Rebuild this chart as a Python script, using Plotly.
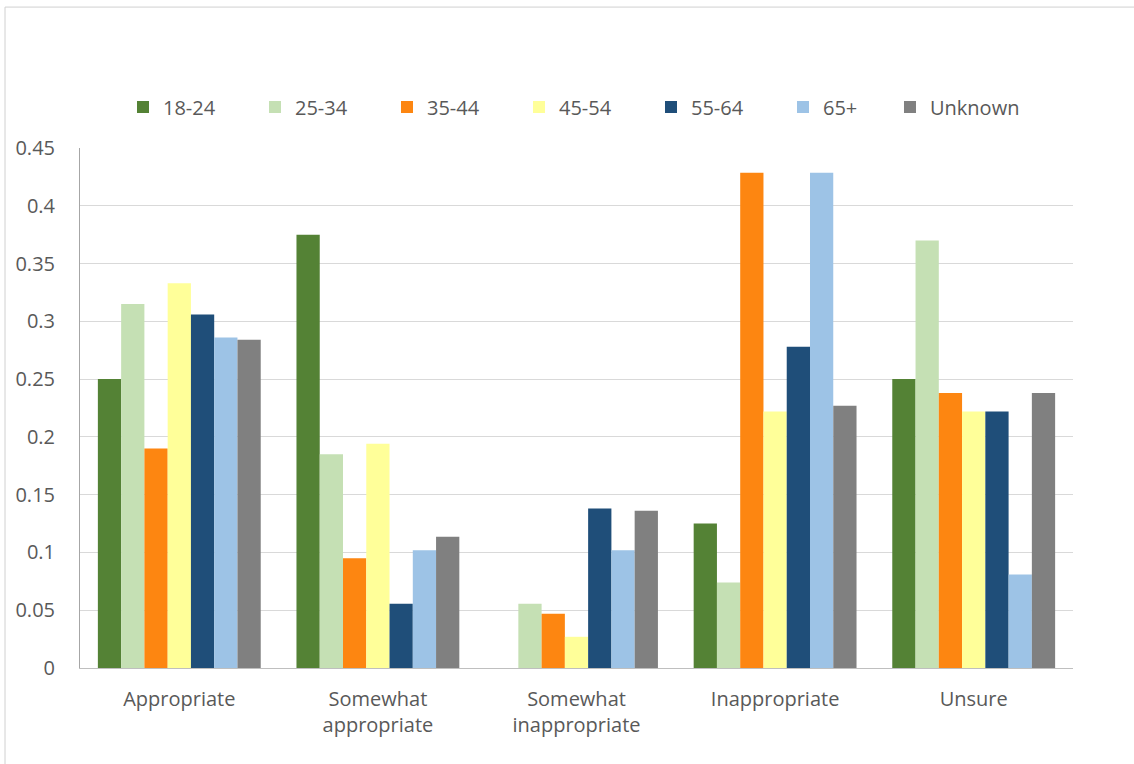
import plotly.graph_objects as go

categories = ["Appropriate", "Somewhat<br>appropriate", "Somewhat<br>inappropriate",
              "Inappropriate", "Unsure"]

age_groups = ["18-24", "25-34", "35-44", "45-54", "55-64", "65+", "Unknown"]

share_18_24 = [0.25, 0.375, 0.0, 0.125, 0.25]
share_25_34 = [0.315, 0.185, 0.0556, 0.074, 0.37]
share_35_44 = [0.19, 0.095, 0.047, 0.4286, 0.238]
share_45_54 = [0.333, 0.194, 0.027, 0.222, 0.222]
share_55_64 = [0.306, 0.0556, 0.138, 0.278, 0.222]
share_65_plus = [0.286, 0.102, 0.102, 0.4286, 0.081]
share_unknown = [0.284, 0.1135, 0.136, 0.227, 0.238]

series = [share_18_24, share_25_34, share_35_44, share_45_54,
          share_55_64, share_65_plus, share_unknown]
colors = ["#548235", "#c5e0b4", "#fd8611", "#ffff99", "#1f4e79", "#9dc3e6", "#808080"]

y_ticks = [0, 0.05, 0.1, 0.15, 0.2, 0.25, 0.3, 0.35, 0.4, 0.45]
y_tick_text = ["0", "0.05", "0.1", "0.15", "0.2", "0.25", "0.3", "0.35", "0.4", "0.45"]

FONT = "Open Sans"
TEXT = "#595959"

fig = go.Figure()
for name, vals, col in zip(age_groups, series, colors):
    # the last entry sits in its own legend box so it can follow the short "65+" label closely
    fig.add_trace(go.Bar(name=name, x=categories, y=vals, marker_color=col,
                         marker_line_width=0,
                         legend="legend2" if name == "Unknown" else "legend"))

legend_style = dict(orientation="h", xanchor="left", y=1.079, yanchor="middle",
                    entrywidth=87, entrywidthmode="pixels",
                    font=dict(family=FONT, size=20, color=TEXT),
                    bgcolor="rgba(0,0,0,0)", traceorder="normal")

fig.update_layout(
    width=1134, height=764,
    margin=dict(l=80, r=61, t=148, b=96),
    paper_bgcolor="white", plot_bgcolor="white",
    barmode="group", bargap=0.18, bargroupgap=0,
    font=dict(family=FONT, size=20, color=TEXT),
    showlegend=True,
    legend=dict(x=0.0433, **legend_style),
    legend2=dict(x=0.8157, **legend_style),
    xaxis=dict(showline=True, linecolor="#bfbfbf", linewidth=1, ticks="",
               ticklabelstandoff=13,
               tickfont=dict(family=FONT, size=20, color=TEXT), showgrid=False),
    yaxis=dict(range=[0, 0.45], tickvals=y_ticks, ticktext=y_tick_text,
               showline=True, linecolor="#a6a6a6", linewidth=1,
               gridcolor="#d9d9d9", gridwidth=1, zeroline=False, ticks="",
               ticklabelstandoff=20,
               tickfont=dict(family=FONT, size=20, color=TEXT)),
    shapes=[dict(type="rect", xref="paper", yref="paper",
                 x0=-0.0755, x1=1.3, y0=-0.5, y1=1.271,
                 line=dict(color="#d0d0d0", width=1), fillcolor="rgba(0,0,0,0)",
                 layer="below")],
)

fig.write_html("out.html")
